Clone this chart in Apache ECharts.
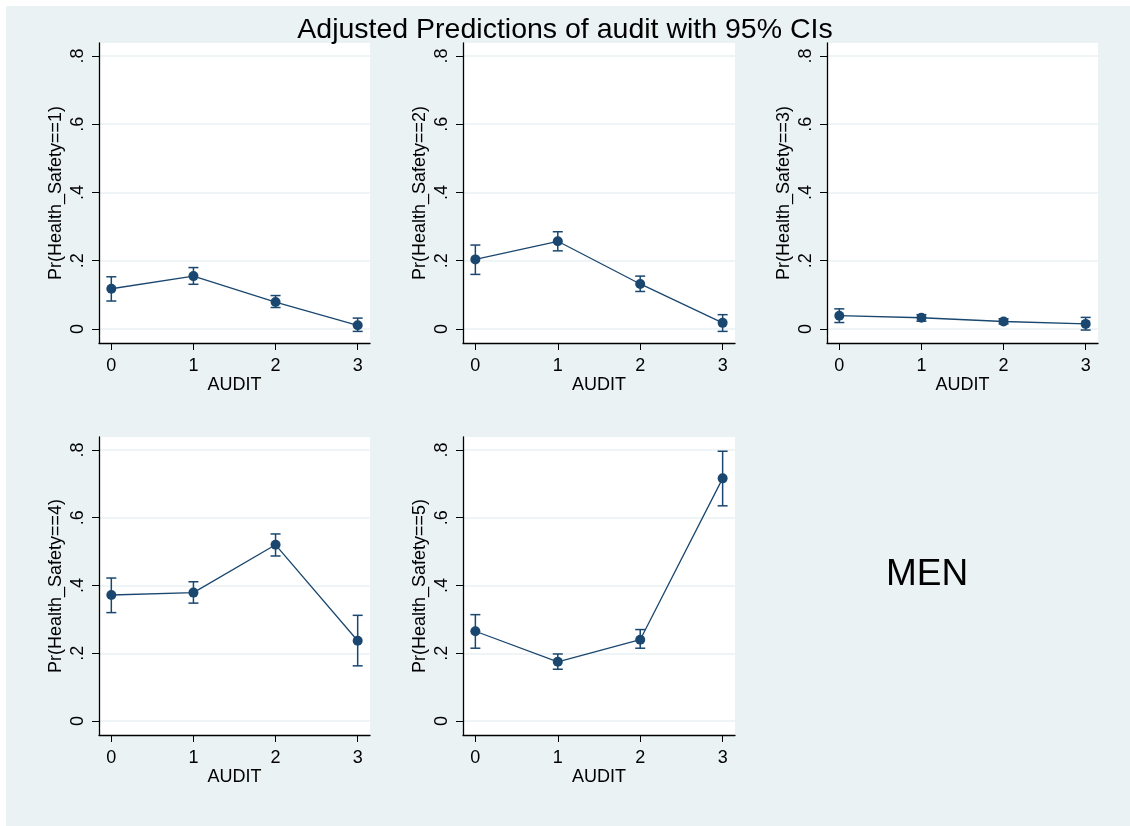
<!DOCTYPE html>
<html>
<head>
<meta charset="utf-8">
<script src="https://cdn.jsdelivr.net/npm/echarts@6/dist/echarts.min.js"></script>
<style>
html,body{margin:0;padding:0;background:#ffffff;}
#c{position:absolute;left:6px;top:6px;width:1124px;height:820px;}
</style>
</head>
<body>
<div id="c"></div>
<script>
// ---- data ----
const audit = [0, 1, 2, 3];
const xTicks = [0, 1, 2, 3];
const yTicks = [0, 0.2, 0.4, 0.6, 0.8];
const panelNames = ['Pr(Health_Safety==1)', 'Pr(Health_Safety==2)', 'Pr(Health_Safety==3)', 'Pr(Health_Safety==4)', 'Pr(Health_Safety==5)'];
const pr1 = [0.118, 0.155, 0.079, 0.011];
const lo1 = [0.082, 0.131, 0.063, -0.007];
const hi1 = [0.153, 0.180, 0.098, 0.032];
const pr2 = [0.204, 0.257, 0.132, 0.018];
const lo2 = [0.160, 0.229, 0.110, -0.007];
const hi2 = [0.246, 0.285, 0.155, 0.042];
const pr3 = [0.039, 0.033, 0.022, 0.015];
const lo3 = [0.019, 0.023, 0.015, -0.003];
const hi3 = [0.059, 0.042, 0.030, 0.034];
const pr4 = [0.372, 0.379, 0.520, 0.237];
const lo4 = [0.320, 0.348, 0.487, 0.163];
const hi4 = [0.422, 0.411, 0.552, 0.312];
const pr5 = [0.265, 0.175, 0.240, 0.716];
const lo5 = [0.215, 0.153, 0.215, 0.635];
const hi5 = [0.314, 0.198, 0.270, 0.796];
const titleText = 'Adjusted Predictions of audit with 95% CIs';
const xName = 'AUDIT';
const noteText = 'MEN';

const prs = [pr1, pr2, pr3, pr4, pr5];
const los = [lo1, lo2, lo3, lo4, lo5];
const his = [hi1, hi2, hi3, hi4, hi5];

// ---- layout (div coords, offset 6px) ----
const OFF = 6;
const grids = [
  {left: 99, top: 43, width: 271, height: 300},
  {left: 463, top: 43, width: 272, height: 300},
  {left: 827, top: 43, width: 271, height: 300},
  {left: 99, top: 437, width: 271, height: 298},
  {left: 463, top: 437, width: 272, height: 298}
];
const NAVY = '#1a476f';
const FONT = 'Liberation Sans, Arial, sans-serif';

const option = {
  backgroundColor: '#eaf2f3',
  animation: false,
  title: {
    text: titleText,
    left: 560 - OFF, top: 5, textAlign: 'center',
    textStyle: {fontFamily: FONT, fontSize: 28.5, fontWeight: 'normal', color: '#000'}
  },
  graphic: [{
    type: 'text', left: 886 - OFF, top: 550,
    style: {text: noteText, fontFamily: FONT, fontSize: 37, fill: '#000'}
  }],
  grid: [], xAxis: [], yAxis: [], series: []
};

grids.forEach((g, i) => {
  option.grid.push({
    left: g.left - OFF, top: g.top - OFF, width: g.width, height: g.height,
    show: true, backgroundColor: '#ffffff', borderWidth: 0
  });
  option.xAxis.push({
    type: 'value', gridIndex: i, min: -0.15, max: 3.15,
    name: xName, nameLocation: 'middle', nameGap: 33,
    nameTextStyle: {fontFamily: FONT, fontSize: 18, color: '#000'},
    axisLine: {show: true, onZero: false, lineStyle: {color: '#000', width: 1.3}},
    axisTick: {show: true, length: 7, customValues: xTicks, lineStyle: {color: '#000', width: 1}},
    axisLabel: {customValues: xTicks, margin: 14, fontFamily: FONT, fontSize: 18, color: '#000'},
    splitLine: {show: false}
  });
  option.yAxis.push({
    type: 'value', gridIndex: i, min: -0.041, max: 0.838,
    name: panelNames[i], nameLocation: 'middle', nameGap: 34, nameRotate: 90,
    nameTextStyle: {fontFamily: FONT, fontSize: 18, color: '#000'},
    axisLine: {show: true, onZero: false, lineStyle: {color: '#000', width: 1.3}},
    axisTick: {show: true, length: 7, customValues: yTicks, lineStyle: {color: '#000', width: 1}},
    axisLabel: {
      customValues: yTicks, rotate: 90, margin: 12, fontFamily: FONT, fontSize: 18, color: '#000',
      formatter: v => (Math.abs(v) < 1e-9 ? '0' : String(+v.toFixed(1)).replace(/^0/, ''))
    },
    splitLine: {show: true, lineStyle: {color: '#eaf2f3', width: 1.5}}
  });
  const ciData = audit.map((x, k) => [x, los[i][k], his[i][k]]);
  option.series.push({
    type: 'custom', xAxisIndex: i, yAxisIndex: i, data: ciData, z: 2,
    renderItem: (params, api) => {
      const x = api.value(0);
      const p1 = api.coord([x, api.value(1)]);
      const p2 = api.coord([x, api.value(2)]);
      const w = 5;
      const st = {stroke: NAVY, lineWidth: 1.5};
      return {
        type: 'group',
        children: [
          {type: 'line', shape: {x1: p1[0], y1: p1[1], x2: p2[0], y2: p2[1]}, style: st},
          {type: 'line', shape: {x1: p1[0] - w, y1: p1[1], x2: p1[0] + w, y2: p1[1]}, style: st},
          {type: 'line', shape: {x1: p2[0] - w, y1: p2[1], x2: p2[0] + w, y2: p2[1]}, style: st}
        ]
      };
    }
  });
  option.series.push({
    type: 'line', xAxisIndex: i, yAxisIndex: i, z: 3,
    data: audit.map((x, k) => [x, prs[i][k]]),
    symbol: 'circle', symbolSize: 10,
    lineStyle: {color: NAVY, width: 1.3},
    itemStyle: {color: NAVY, borderWidth: 0}
  });
});

const chart = echarts.init(document.getElementById('c'), null, {renderer: 'canvas'});
chart.setOption(option);
</script>
</body>
</html>
